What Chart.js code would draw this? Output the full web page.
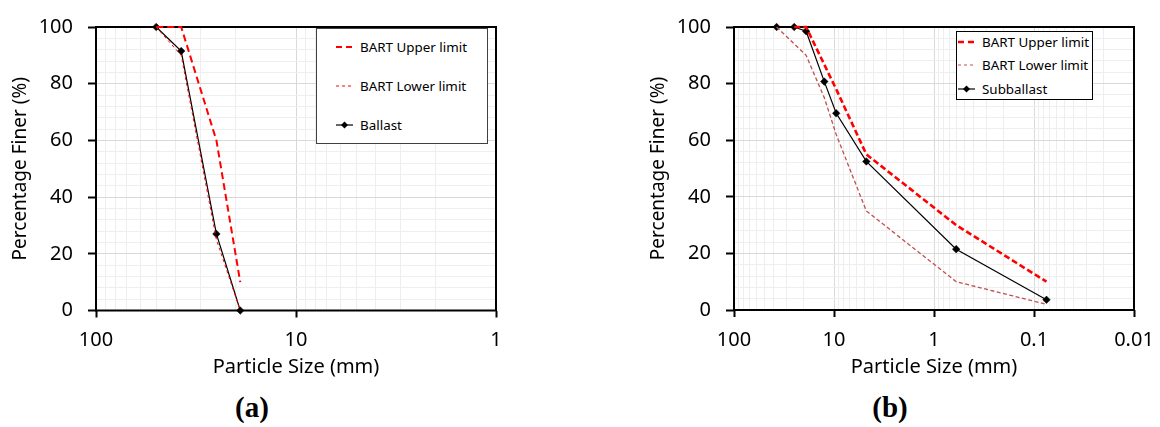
<!DOCTYPE html>
<html>
<head>
<meta charset="utf-8">
<script src="https://cdn.jsdelivr.net/npm/chart.js@4.4.0/dist/chart.umd.min.js"></script>
<style>
  html, body { margin: 0; padding: 0; background: #fff; }
  body { width: 1160px; height: 427px; position: relative; overflow: hidden; font-family: "Noto Sans", sans-serif; }
  .wrap { position: absolute; top: 0; height: 385px; }
  .legend { position: absolute; background: #fff; box-sizing: border-box; }
  .item { position: absolute; height: 20px; display: flex; align-items: center; font-size: 13.4px; color: #000; white-space: nowrap; }
  .item svg { flex: none; }
  .item span { margin-left: 7px; }
  .lab { position: absolute; font-family: "Liberation Serif", serif; font-weight: bold; font-size: 29px; transform: translate(-50%, -50%); }
</style>
</head>
<body>
<div class="wrap" style="left:0;width:560px;"><canvas id="ca"></canvas></div>
<div class="wrap" style="left:560px;width:600px;"><canvas id="cb"></canvas></div>

<div class="legend" style="left:316px;top:28px;width:172px;height:116px;border:1.5px solid #404040;">
  <div class="item" style="left:19px;top:8px;"><svg width="17" height="10"><line x1="0" y1="5" x2="17" y2="5" stroke="#ff0000" stroke-width="2" stroke-dasharray="6,4"/></svg><span>BART Upper limit</span></div>
  <div class="item" style="left:19px;top:47px;"><svg width="17" height="10"><line x1="0" y1="5" x2="17" y2="5" stroke="#ff0000" stroke-width="1" stroke-dasharray="3,3"/></svg><span>BART Lower limit</span></div>
  <div class="item" style="left:19px;top:86px;"><svg width="17" height="10"><line x1="0" y1="5" x2="17" y2="5" stroke="#000" stroke-width="1.2"/><polygon points="8.5,1.5 12,5 8.5,8.5 5,5" fill="#000"/></svg><span>Ballast</span></div>
</div>

<div class="legend" style="left:956px;top:31px;width:137px;height:69px;border:1.5px solid #000;">
  <div class="item" style="left:1px;top:0px;"><svg width="17" height="10"><line x1="0" y1="5" x2="17" y2="5" stroke="#ff0000" stroke-width="2.5" stroke-dasharray="6,4"/></svg><span>BART Upper limit</span></div>
  <div class="item" style="left:1px;top:23px;"><svg width="17" height="10"><line x1="0" y1="5" x2="17" y2="5" stroke="#c0504d" stroke-width="1.2" stroke-dasharray="3,3"/></svg><span>BART Lower limit</span></div>
  <div class="item" style="left:1px;top:47px;"><svg width="17" height="10"><line x1="0" y1="5" x2="17" y2="5" stroke="#000" stroke-width="1.2"/><polygon points="8.5,1.5 12,5 8.5,8.5 5,5" fill="#000"/></svg><span>Subballast</span></div>
</div>

<div class="lab" style="left:252px;top:407px;">(a)</div>
<div class="lab" style="left:890px;top:407px;">(b)</div>

<script>
// ---------- Data ----------
// (a) Ballast
const ballastSizes = [50, 37.5, 25, 19];
const ballastFiner = [100, 91.5, 27, 0];
const upperASizes = [50, 37.5, 25, 19];
const upperAFiner = [100, 100, 60, 10];
const lowerASizes = [50, 37.5, 25, 19];
const lowerAFiner = [100, 90, 25, 0];

// (b) Subballast
const subSizes = [37.5, 25, 19, 12.5, 9.5, 4.75, 0.6, 0.075];
const subFiner = [100, 100, 98.5, 80.7, 69.5, 52.5, 21.5, 3.6];
const upperBSizes = [25, 19, 9.5, 4.75, 0.6, 0.075];
const upperBFiner = [100, 100, 78, 55, 30, 10];
const lowerBSizes = [37.5, 19, 12.5, 9.5, 4.75, 0.6, 0.075];
const lowerBFiner = [100, 90, 75, 62, 35, 10, 2];

// Axis ranges / tick labels
const xRangeA = [1, 100];
const xRangeB = [0.01, 100];
const yTickLabels = [0, 20, 40, 60, 80, 100];

// ---------- Helpers ----------
const pts = (xs, ys) => xs.map((x, i) => ({x: x, y: ys[i]}));
const isDecade = v => Math.abs(Math.log10(v) - Math.round(Math.log10(v))) < 1e-9;

const borderPlugin = {
  id: 'plotBorder',
  beforeDatasetsDraw(chart) {
    const {ctx, chartArea: a} = chart;
    ctx.save();
    ctx.strokeStyle = '#000';
    ctx.lineWidth = 2;
    ctx.strokeRect(a.left, a.top, a.right - a.left, a.bottom - a.top);
    ctx.restore();
  }
};

function makeChart(id, cfg) {
  const xMin = cfg.xRange[0], xMax = cfg.xRange[1];
  return new Chart(document.getElementById(id), {
    type: 'line',
    data: { datasets: cfg.datasets },
    options: {
      responsive: false,
      animation: false,
      maintainAspectRatio: false,
      layout: { padding: cfg.padding },
      plugins: { legend: { display: false }, tooltip: { enabled: false } },
      elements: { line: { tension: 0 } },
      scales: {
        x: {
          type: 'logarithmic',
          reverse: true,
          min: xMin, max: xMax,
          afterBuildTicks(s) {
            const t = [];
            for (let e = Math.round(Math.log10(xMin)); e < Math.round(Math.log10(xMax)); e++) {
              const d = Math.pow(10, e);
              for (let k = 1; k <= 9; k++) t.push({value: Number((k * d).toPrecision(6))});
            }
            t.push({value: xMax});
            s.ticks = t;
          },
          afterFit(s) { s.height = cfg.xHeight; },
          border: { display: false },
          grid: {
            color: c => (c.tick && isDecade(c.tick.value)) ? '#d9d9d9' : '#eeeeee',
            lineWidth: 1,
            tickColor: c => (c.tick && isDecade(c.tick.value)) ? '#000' : 'rgba(0,0,0,0)',
            tickLength: 7,
            tickWidth: 2
          },
          ticks: {
            autoSkip: false, maxRotation: 0, minRotation: 0,
            padding: 11,
            color: '#000',
            font: { family: 'Noto Sans', size: 20 },
            callback: v => isDecade(v) ? String(Number(v.toPrecision(6))) : ''
          },
          title: {
            display: true, text: 'Particle Size (mm)', color: '#000',
            font: { family: 'Noto Sans', size: 20 },
            padding: { top: 0, bottom: 6 }
          }
        },
        y: {
          min: 0, max: 100,
          afterFit(s) { s.width = cfg.yWidth; },
          border: { display: false },
          grid: {
            color: c => (c.tick && c.tick.value % 20 === 0) ? '#d9d9d9' : '#eeeeee',
            lineWidth: 1,
            tickColor: c => (c.tick && c.tick.value % 20 === 0) ? '#000' : 'rgba(0,0,0,0)',
            tickLength: 8,
            tickWidth: 2
          },
          ticks: {
            stepSize: 4, autoSkip: false,
            padding: 15,
            color: '#000',
            font: { family: 'Noto Sans', size: 20 },
            callback: v => yTickLabels.includes(v) ? String(v) : ''
          },
          title: {
            display: true, text: 'Percentage Finer (%)', color: '#000',
            font: { family: 'Noto Sans', size: 19 },
            padding: { top: cfg.yTitlePad, bottom: 0 }
          }
        }
      }
    },
    plugins: [borderPlugin]
  });
}

const blackStyle = { borderColor: '#000', borderWidth: 1.2, pointStyle: 'rectRot', pointRadius: 3.8,
  pointBackgroundColor: '#000', pointBorderColor: '#000', pointBorderWidth: 0.5, fill: false, clip: false };

const ca = document.getElementById('ca'); ca.width = 560; ca.height = 385;
const cb = document.getElementById('cb'); cb.width = 600; cb.height = 385;

makeChart('ca', {
  xRange: xRangeA,
  padding: { left: 0, top: 14, right: 64, bottom: 0 },
  xHeight: 385 - 310.5,
  yWidth: 96, yTitlePad: 9.5,
  datasets: [
    { label: 'BART Upper limit', data: pts(upperASizes, upperAFiner), borderColor: '#ff0000', borderWidth: 2,
      borderDash: [7, 4], pointRadius: 0, fill: false, clip: false },
    { label: 'BART Lower limit', data: pts(lowerASizes, lowerAFiner), borderColor: '#ff0000', borderWidth: 1,
      borderDash: [3, 3], pointRadius: 0, fill: false, clip: false },
    Object.assign({ label: 'Ballast', data: pts(ballastSizes, ballastFiner) }, blackStyle)
  ]
});

makeChart('cb', {
  xRange: xRangeB,
  padding: { left: 80, top: 15, right: 26, bottom: 0 },
  xHeight: 385 - 310,
  yWidth: 94, yTitlePad: 7.6,
  datasets: [
    { label: 'BART Upper limit', data: pts(upperBSizes, upperBFiner), borderColor: '#ff0000', borderWidth: 2.6,
      borderDash: [6, 3], pointRadius: 0, fill: false, clip: false },
    { label: 'BART Lower limit', data: pts(lowerBSizes, lowerBFiner), borderColor: '#c0504d', borderWidth: 1.3,
      borderDash: [4, 2.5], pointRadius: 0, fill: false, clip: false },
    Object.assign({ label: 'Subballast', data: pts(subSizes, subFiner) }, blackStyle)
  ]
});
</script>
</body>
</html>
